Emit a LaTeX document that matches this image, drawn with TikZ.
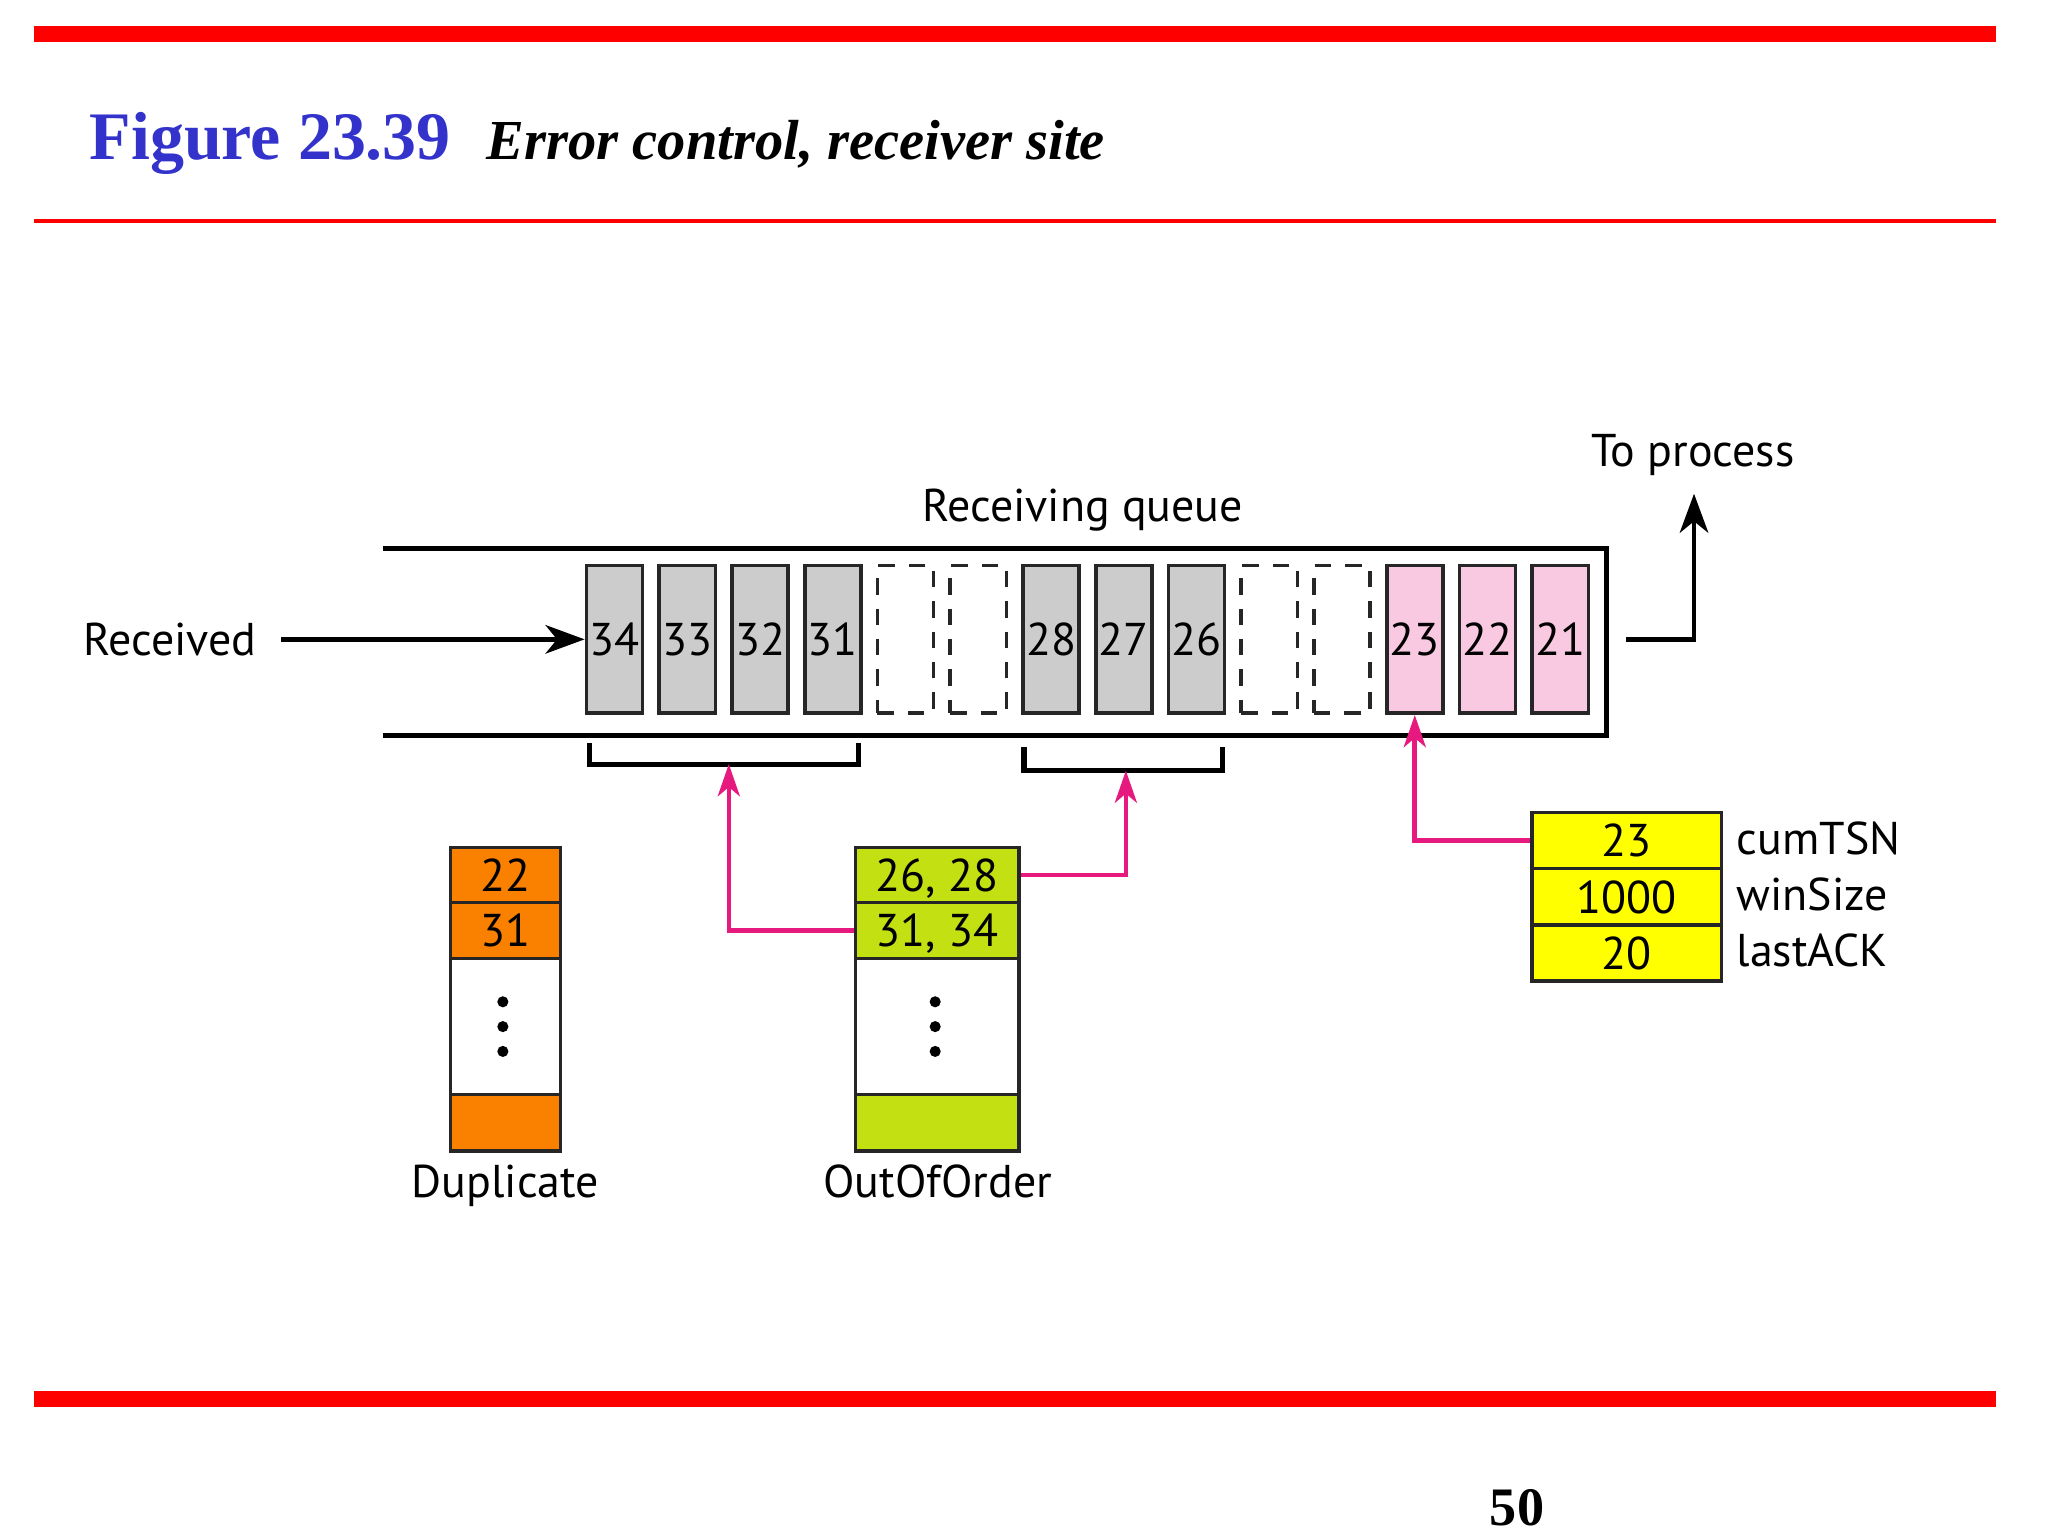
\documentclass[tikz,border=0pt]{standalone}
\usepackage{fontspec}
\setmainfont{Liberation Serif}
\newfontfamily\diagfont{PT Sans}
\usetikzlibrary{arrows.meta}
\definecolor{titleblue}{HTML}{3333CC}
\definecolor{barred}{HTML}{FF0000}
\definecolor{cellgray}{HTML}{CCCCCC}
\definecolor{cellpink}{HTML}{F9C8E1}
\definecolor{linkpink}{HTML}{E6197F}
\definecolor{duporange}{HTML}{FA8000}
\definecolor{oogreen}{HTML}{C2E012}
\definecolor{ackyellow}{HTML}{FFFF00}
\begin{document}
\begin{tikzpicture}[x=0.01cm,y=-0.01cm,
  every node/.style={font=\diagfont\fontsize{10}{12}\selectfont},
  qline/.style={line width=1.1pt,black},
  cellbase/.style={draw=black!85,line width=0.8pt,minimum width=0.43cm,minimum height=1.13cm,inner sep=0pt},
  gcell/.style={cellbase,fill=cellgray},
  pcell/.style={cellbase,fill=cellpink},
  ecell/.style={cellbase,fill=white,dash pattern=on 3.6pt off 3pt},
  tcell/.style={draw=black!85,line width=0.8pt,inner sep=0pt,text depth=0pt},
  duprow/.style={tcell,minimum width=0.84cm},
  oorow/.style={tcell,minimum width=1.25cm},
  ackrow/.style={tcell,minimum width=1.45cm,minimum height=0.43cm,fill=ackyellow},
  barrow/.style={line width=1pt,-{Stealth[length=8.5pt,width=6.2pt,inset=2.5pt]}},
  parrow/.style={line width=1pt,linkpink,-{Stealth[length=7pt,width=4.8pt,inset=2pt]}},
  bracketline/.style={line width=1.1pt,black},
  dotmark/.style={circle,fill=black,inner sep=0pt,minimum size=0.085cm}]
\useasboundingbox (0,0) rectangle (1568,1176);
% header / footer bars
\fill[barred] (26,20) rectangle (1528,32);
\fill[barred] (26,167.5) rectangle (1528,170.5);
\fill[barred] (26,1065) rectangle (1528,1077);
\node[anchor=base west,inner sep=0pt,font=\fontsize{14.8}{17}\selectfont\bfseries,text=titleblue] (fig) at (68,122) {Figure 23.39};
\node[anchor=base west,inner sep=0pt,font=\fontsize{12.3}{15}\selectfont\bfseries\itshape] (cap) at (372,122) {Error control, receiver site};
\node[anchor=base west,inner sep=0pt,font=\fontsize{11.8}{14}\selectfont\bfseries] (pg) at (1140,1168) {50};
% queue
\draw[qline] (293,420) -- (1230,420) -- (1230,563) -- (293,563);
\node[anchor=base,inner sep=0pt] (rq) at (829,399) {Receiving queue};
% cells
\node[gcell] (c34) at (470.5,489.5) {34};
\node[gcell] (c33) at (526.2,489.5) {33};
\node[gcell] (c32) at (581.9,489.5) {32};
\node[gcell] (c31) at (637.6,489.5) {31};
\node[ecell] (e1) at (693.3,489.5) {};
\node[ecell] (e2) at (749.0,489.5) {};
\node[gcell] (c28) at (804.7,489.5) {28};
\node[gcell] (c27) at (860.4,489.5) {27};
\node[gcell] (c26) at (916.1,489.5) {26};
\node[ecell] (e3) at (971.8,489.5) {};
\node[ecell] (e4) at (1027.5,489.5) {};
\node[pcell] (c23) at (1083.2,489.5) {23};
\node[pcell] (c22) at (1138.9,489.5) {22};
\node[pcell] (c21) at (1194.6,489.5) {21};
% received arrow
\node[anchor=east,inner sep=0pt] (recv) at (197,489.5) {Received};
\draw[barrow] ([xshift=0.18cm]recv.east) -- (c34.west);
% to process
\node[anchor=base,inner sep=0pt] (tp) at (1296,357) {To process};
\coordinate (qout) at (1245,489.5);
\coordinate (tptip) at (1297,378);
\draw[barrow] (qout) -| (tptip);
% brackets
\coordinate (bA) at (558,585);
\coordinate (bB) at (862,590);
\draw[bracketline] (451,569) -- (451,585) -- (657,585) -- (657,569);
\draw[bracketline] (784,572) -- (784,590) -- (936,590) -- (936,572);
% duplicate table
\node[duprow,minimum height=0.42cm,fill=duporange] (d1) at (387,670) {22};
\node[duprow,minimum height=0.43cm,fill=duporange] (d2) at (387,712.5) {31};
\node[duprow,minimum height=1.04cm,fill=white] (d3) at (387,786) {};
\node[duprow,minimum height=0.43cm,fill=duporange] (d4) at (387,859.5) {};
\node[dotmark] at (385,767) {};
\node[dotmark] at (385,786) {};
\node[dotmark] at (385,805) {};
\node[anchor=base,inner sep=0pt] (dupl) at (387,917) {Duplicate};
% out of order table
\node[oorow,minimum height=0.42cm,fill=oogreen] (o1) at (717.5,670) {26, 28};
\node[oorow,minimum height=0.43cm,fill=oogreen] (o2) at (717.5,712.5) {31, 34};
\node[oorow,minimum height=1.04cm,fill=white] (o3) at (717.5,786) {};
\node[oorow,minimum height=0.43cm,fill=oogreen] (o4) at (717.5,859.5) {};
\node[dotmark] at (716,767) {};
\node[dotmark] at (716,786) {};
\node[dotmark] at (716,805) {};
\node[anchor=base,inner sep=0pt] (oool) at (718,917) {OutOfOrder};
% ack table
\node[ackrow] (y1) at (1245.5,643.5) {23};
\node[ackrow] (y2) at (1245.5,686.5) {1000};
\node[ackrow] (y3) at (1245.5,729.5) {20};
\node[anchor=base west,inner sep=0pt] (l1) at (1329,654) {cumTSN};
\node[anchor=base west,inner sep=0pt] (l2) at (1329,697) {winSize};
\node[anchor=base west,inner sep=0pt] (l3) at (1329,740) {lastACK};
% pink connectors
\draw[parrow] (o2.west) -| (bA);
\draw[parrow] (o1.east) -| (bB);
\draw[parrow] (y1.west) -| (c23.south);
\end{tikzpicture}
\end{document}
